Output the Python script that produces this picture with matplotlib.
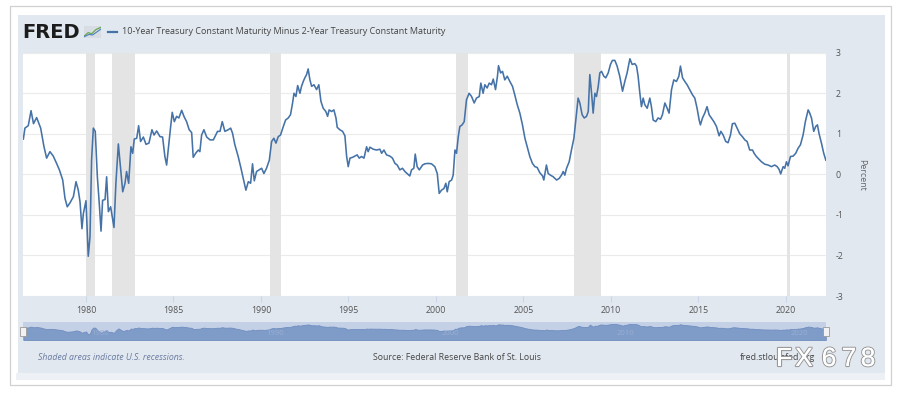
import matplotlib
matplotlib.use("Agg")
import matplotlib.pyplot as plt
import numpy as np
from matplotlib.patches import Rectangle
from matplotlib.lines import Line2D
import matplotlib.patheffects as pe
import matplotlib.transforms as mtransforms

# ---------------- data ----------------
years_a = [1976.42, 1976.51, 1976.70, 1976.86, 1977.00, 1977.18, 1977.41, 1977.60, 1977.75, 1977.94,
           1978.13, 1978.32, 1978.48, 1978.67, 1978.80, 1978.93, 1979.09, 1979.28, 1979.43, 1979.56,
           1979.66, 1979.77, 1979.85, 1980.00, 1980.13, 1980.23, 1980.32, 1980.42, 1980.53, 1980.65,
           1980.76, 1980.86, 1980.95, 1981.09, 1981.18, 1981.28, 1981.41, 1981.60, 1981.71, 1981.85,
           1981.98, 1982.10, 1982.23, 1982.32, 1982.44, 1982.57, 1982.67, 1982.76, 1982.90, 1983.01,
           1983.12, 1983.28, 1983.43, 1983.60, 1983.77, 1983.89, 1984.04, 1984.23, 1984.38, 1984.51,
           1984.61, 1984.74, 1984.84, 1984.93, 1985.05, 1985.18, 1985.31, 1985.47, 1985.60, 1985.75,
           1985.90, 1986.04, 1986.13, 1986.27, 1986.42, 1986.51, 1986.61, 1986.74, 1986.90, 1987.09,
           1987.28, 1987.37, 1987.52, 1987.66, 1987.79, 1987.94]
spread_a = [0.87, 1.14, 1.20, 1.57, 1.25, 1.40, 1.14, 0.68, 0.40, 0.56,
            0.45, 0.27, 0.11, -0.14, -0.59, -0.80, -0.70, -0.55, -0.18, -0.39,
            -0.68, -1.34, -0.97, -0.65, -2.02, -1.54, 0.35, 1.14, 1.06, -0.06,
            -0.72, -1.40, -0.64, -0.62, -0.06, -0.92, -0.80, -1.31, -0.22, 0.75,
            0.15, -0.43, -0.22, 0.07, -0.22, 0.68, 0.52, 0.87, 0.89, 1.20,
            0.81, 0.92, 0.74, 0.77, 1.10, 0.97, 1.07, 0.93, 0.92, 0.44,
            0.23, 0.77, 1.18, 1.53, 1.30, 1.43, 1.39, 1.58, 1.43, 1.30,
            1.10, 1.03, 0.42, 0.52, 0.60, 0.56, 0.97, 1.10, 0.92, 0.85,
            0.85, 0.93, 1.06, 1.06, 1.30, 1.06]

years_b = [1988.13, 1988.27, 1988.38, 1988.51, 1988.70, 1988.86, 1988.99, 1989.14, 1989.28, 1989.41,
           1989.52, 1989.62, 1989.75, 1989.90, 1990.04, 1990.17, 1990.32, 1990.48, 1990.61, 1990.74,
           1990.86, 1990.99, 1991.12, 1991.28, 1991.41, 1991.56, 1991.69, 1991.81, 1991.89, 1992.00,
           1992.10, 1992.23, 1992.32, 1992.42, 1992.51, 1992.61, 1992.70, 1992.80, 1992.90, 1993.03,
           1993.18, 1993.31, 1993.43, 1993.56, 1993.71, 1993.81, 1993.90, 1994.04, 1994.17, 1994.29,
           1994.36, 1994.51, 1994.67, 1994.80, 1994.90, 1994.99, 1995.09, 1995.24, 1995.37, 1995.50,
           1995.62, 1995.75, 1995.89, 1996.04, 1996.13, 1996.23, 1996.42, 1996.61, 1996.80, 1996.90,
           1997.03, 1997.18, 1997.37, 1997.52, 1997.66, 1997.79, 1997.94, 1998.09, 1998.23, 1998.36,
           1998.51, 1998.61, 1998.74, 1998.82, 1998.93, 1999.05]
spread_b = [1.10, 1.14, 1.01, 0.73, 0.44, 0.15, -0.10, -0.39, -0.18, -0.22,
            0.26, -0.16, 0.07, 0.11, 0.15, 0.02, 0.15, 0.35, 0.81, 0.89,
            0.77, 0.93, 0.97, 1.18, 1.34, 1.39, 1.47, 1.76, 2.00, 1.92,
            2.19, 2.00, 2.17, 2.29, 2.38, 2.46, 2.60, 2.33, 2.17, 2.21,
            2.09, 2.21, 1.80, 1.63, 1.55, 1.43, 1.59, 1.55, 1.59, 1.39,
            1.16, 1.10, 1.06, 0.95, 0.44, 0.19, 0.40, 0.42, 0.45, 0.48,
            0.40, 0.44, 0.40, 0.68, 0.56, 0.67, 0.62, 0.60, 0.62, 0.52,
            0.60, 0.48, 0.45, 0.40, 0.27, 0.23, 0.11, 0.15, 0.07, 0.02,
            -0.04, 0.11, 0.15, 0.50, 0.19, 0.11]

years_c = [1999.24, 1999.37, 1999.56, 1999.75, 1999.94, 2000.08, 2000.19, 2000.32, 2000.46, 2000.57,
           2000.65, 2000.76, 2000.90, 2000.99, 2001.09, 2001.18, 2001.28, 2001.37, 2001.50, 2001.62,
           2001.75, 2001.90, 2002.04, 2002.19, 2002.32, 2002.48, 2002.57, 2002.70, 2002.80, 2002.93,
           2003.05, 2003.18, 2003.28, 2003.41, 2003.52, 2003.58, 2003.70, 2003.81, 2003.94, 2004.08,
           2004.23, 2004.38, 2004.51, 2004.65, 2004.80, 2004.95, 2005.09, 2005.22, 2005.37, 2005.52,
           2005.66, 2005.79, 2005.94, 2006.10, 2006.17, 2006.32, 2006.42, 2006.55, 2006.71, 2006.90,
           2007.05, 2007.18, 2007.28, 2007.37, 2007.47, 2007.62, 2007.75, 2007.89, 2008.00, 2008.13,
           2008.23, 2008.36, 2008.48, 2008.61, 2008.71, 2008.80, 2008.90, 2008.99, 2009.09, 2009.18,
           2009.28, 2009.37, 2009.47, 2009.60, 2009.71, 2009.85, 2009.98, 2010.09, 2010.23, 2010.36]
spread_c = [0.23, 0.26, 0.27, 0.26, 0.19, 0.02, -0.47, -0.39, -0.35, -0.22,
            -0.43, -0.18, -0.14, -0.02, 0.60, 0.52, 0.93, 1.18, 1.22, 1.30,
            1.84, 2.00, 1.92, 1.76, 1.88, 1.92, 2.25, 2.00, 2.21, 2.13,
            2.25, 2.21, 2.35, 2.09, 2.42, 2.68, 2.50, 2.54, 2.33, 2.42,
            2.29, 2.17, 1.96, 1.72, 1.51, 1.22, 0.89, 0.68, 0.44, 0.27,
            0.19, 0.17, 0.04, -0.04, -0.14, 0.23, 0.02, -0.02, -0.06, -0.14,
            -0.10, -0.02, 0.07, -0.02, 0.15, 0.31, 0.60, 0.89, 1.34, 1.88,
            1.76, 1.47, 1.39, 1.43, 1.55, 2.46, 2.00, 1.51, 2.00, 1.92,
            2.17, 2.50, 2.54, 2.42, 2.38, 2.50, 2.71, 2.81, 2.81, 2.67]

years_d = [2010.51, 2010.67, 2010.80, 2010.93, 2011.09, 2011.22, 2011.37, 2011.47, 2011.56, 2011.66,
           2011.75, 2011.85, 2011.94, 2012.08, 2012.23, 2012.32, 2012.42, 2012.57, 2012.70, 2012.84,
           2012.95, 2013.09, 2013.22, 2013.33, 2013.47, 2013.60, 2013.75, 2013.89, 2013.98, 2014.10,
           2014.23, 2014.36, 2014.51, 2014.67, 2014.80, 2014.93, 2015.05, 2015.12, 2015.24, 2015.37,
           2015.50, 2015.62, 2015.75, 2015.89, 2016.04, 2016.19, 2016.29, 2016.42, 2016.57, 2016.70,
           2016.84, 2016.95, 2017.09, 2017.22, 2017.37, 2017.52, 2017.66, 2017.79, 2017.94, 2018.10,
           2018.19, 2018.32, 2018.48, 2018.61, 2018.80, 2018.99, 2019.18, 2019.37, 2019.51, 2019.62,
           2019.71, 2019.85, 2019.94, 2020.04, 2020.13, 2020.27, 2020.42, 2020.57, 2020.70, 2020.84,
           2020.99, 2021.12, 2021.28, 2021.37, 2021.47, 2021.60, 2021.71, 2021.81, 2021.90, 2022.04,
           2022.17, 2022.29]
spread_d = [2.42, 2.05, 2.29, 2.50, 2.85, 2.71, 2.73, 2.67, 2.42, 2.00,
            1.67, 1.88, 1.72, 1.63, 1.88, 1.67, 1.34, 1.30, 1.39, 1.36,
            1.47, 1.76, 1.63, 1.51, 2.09, 2.33, 2.29, 2.42, 2.67, 2.38,
            2.29, 2.21, 2.09, 1.96, 1.88, 1.63, 1.34, 1.22, 1.39, 1.51,
            1.67, 1.47, 1.39, 1.30, 1.18, 0.95, 1.06, 0.97, 0.81, 0.78,
            0.97, 1.25, 1.26, 1.14, 1.00, 0.93, 0.85, 0.81, 0.60, 0.60,
            0.52, 0.44, 0.37, 0.31, 0.25, 0.23, 0.19, 0.23, 0.19, 0.12,
            0.01, 0.19, 0.15, 0.31, 0.21, 0.44, 0.45, 0.52, 0.64, 0.73,
            0.97, 1.30, 1.59, 1.51, 1.39, 1.06, 1.18, 1.22, 1.01, 0.77,
            0.52, 0.35]

recession_start = [1980.00, 1981.50, 1990.50, 2001.17, 2007.92, 2020.08]
recession_end = [1980.50, 1982.83, 1991.17, 2001.83, 2009.42, 2020.25]

x_ticks = [1980, 1985, 1990, 1995, 2000, 2005, 2010, 2015, 2020]
y_ticks = [-3, -2, -1, 0, 1, 2, 3]
nav_labels = [1980, 1990, 2000, 2010, 2020]

series_title = "10-Year Treasury Constant Maturity Minus 2-Year Treasury Constant Maturity"

years = np.array(years_a + years_b + years_c + years_d)
spread = np.array(spread_a + spread_b + spread_c + spread_d)

# ---------------- layout ----------------
W, H = 903, 397
fig = plt.figure(figsize=(W / 100, H / 100), dpi=100)
fig.patch.set_facecolor("white")
FONT = ["Open Sans", "DejaVu Sans"]


def fx(x):
    return x / W


def fy(y):
    return 1 - y / H


def rect(x0, y0, x1, y1, **kw):
    fig.patches.append(Rectangle((fx(x0), fy(y1)), fx(x1) - fx(x0), fy(y0) - fy(y1),
                                 transform=fig.transFigure, **kw))


rect(10, 6, 891, 385, facecolor="white", edgecolor="#d0d0d0", lw=0.9, zorder=-5)
rect(18, 15, 885, 373, facecolor="#e1e8f0", edgecolor="none", zorder=-4)
rect(16, 373, 885, 380, facecolor="#edf1f5", edgecolor="none", zorder=-4)

XMIN, XMAX = 1976.4, 2022.3
PL, PR, PT, PB = 23, 826, 52.7, 296

ax = fig.add_axes([fx(PL), fy(PB), fx(PR) - fx(PL), fy(PT) - fy(PB)])
ax.set_facecolor("white")
for s in ax.spines.values():
    s.set_visible(False)

for s0, s1 in zip(recession_start, recession_end):
    ax.axvspan(s0, s1, color="#e4e4e4", lw=0, zorder=0.6)

ax.plot(years, spread, color="#4572a7", lw=1.15, zorder=3, solid_joinstyle="round")

ax.set_xlim(XMIN, XMAX)
ax.set_ylim(-3, 3)
ax.set_yticks(y_ticks)
ax.set_yticklabels([str(v) for v in y_ticks], fontfamily=FONT)
ax.yaxis.tick_right()
ax.tick_params(axis="y", length=0, pad=7, labelsize=6.3, labelcolor="#555555")
ax.set_xticks(x_ticks)
ax.set_xticklabels([str(v) for v in x_ticks], fontfamily=FONT)
ax.tick_params(axis="x", length=4.5, width=0.8, color="#ccd6eb", pad=2.5,
               labelsize=6.3, labelcolor="#555555")
ax.grid(axis="y", color="#ebebeb", lw=0.8, zorder=0.5)
ax.set_axisbelow(True)

fig.text(fx(862), fy(175), "Percent", rotation=270, ha="center", va="center",
         fontsize=6.3, color="#666666", fontfamily=FONT)

# ---------------- navigator ----------------
nav = fig.add_axes([fx(PL), fy(340), fx(PR) - fx(PL), fy(322) - fy(340)])
nav.set_facecolor("#c4d0e6")
for s in nav.spines.values():
    s.set_visible(False)
nav.set_xticks([])
nav.set_yticks([])
nav.fill_between(years, spread, -4.6, color="#7f9cc9", lw=0.6, edgecolor="#6f8dbf", zorder=2)
nav.set_xlim(XMIN, XMAX)
nav.set_ylim(-4.6, 3.7)
blend = mtransforms.blended_transform_factory(nav.transData, nav.transAxes)
for yr in nav_labels:
    nav.text(yr + 0.3, 0.38, str(yr), transform=blend, fontsize=5.5, color="#9aaed2",
             va="center", ha="left", fontfamily=FONT, zorder=3)
for xa in (0.0, 1.0):
    nav.add_patch(Rectangle((xa - 0.0035, 0.22), 0.007, 0.52, transform=nav.transAxes,
                            facecolor="#f2f2f2", edgecolor="#999999", lw=0.6, zorder=5,
                            clip_on=False))

# ---------------- header ----------------
fig.text(fx(22.5), fy(32.5), "FRED", fontsize=14, fontweight="heavy", color="#1c1c1c",
         va="center", ha="left", fontfamily=["DejaVu Sans"])
icon = fig.add_axes([fx(84), fy(38), fx(101) - fx(84), fy(26) - fy(38)])
icon.set_facecolor("#d8dde4")
for s in icon.spines.values():
    s.set_visible(False)
icon.set_xticks([])
icon.set_yticks([])
icon.plot([0, 0.25, 0.45, 0.7, 1.0], [0.15, 0.45, 0.35, 0.7, 0.9], color="#6aa84f", lw=0.9)
icon.plot([0, 0.3, 0.5, 0.75, 1.0], [0.1, 0.3, 0.25, 0.5, 0.75], color="#4a7fbf", lw=0.8)
icon.set_xlim(0, 1)
icon.set_ylim(0, 1)

fig.add_artist(Line2D([fx(108), fx(117)], [fy(32), fy(32)], color="#4572a7", lw=1.6))
fig.text(fx(122.5), fy(32), series_title, fontsize=6.45, color="#444444", va="center",
         ha="left", fontfamily=FONT)

# ---------------- footer ----------------
fig.text(fx(38), fy(358), "Shaded areas indicate U.S. recessions.", fontsize=6.3,
         style="italic", color="#6a7ba0", va="center", ha="left", fontfamily=FONT)
fig.text(fx(373), fy(358), "Source: Federal Reserve Bank of St. Louis", fontsize=6.3,
         color="#444444", va="center", ha="left", fontfamily=FONT)
fig.text(fx(740), fy(358), "fred.stlouisfed.org", fontsize=6.3,
         color="#444444", va="center", ha="left", fontfamily=FONT)

# watermark
for ch, xc in zip("FX678", [784, 804, 829, 849, 868]):
    fig.text(fx(xc), fy(359), ch, fontsize=19, color="white", ha="center", va="center",
             fontfamily=["Liberation Sans", "DejaVu Sans"],
             path_effects=[pe.withStroke(linewidth=1.6, foreground="#9a9a9a"), pe.Normal()],
             zorder=10)

fig.savefig("out.png", dpi=100, facecolor="white")
